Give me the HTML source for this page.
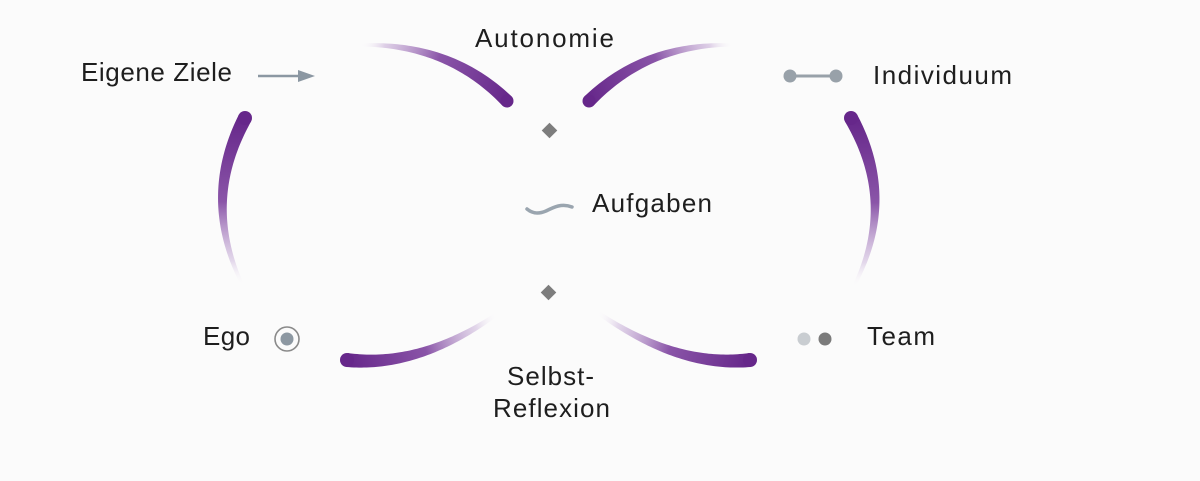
<!DOCTYPE html>
<html><head><meta charset="utf-8"><style>
html,body{margin:0;padding:0;background:#fbfbfb;}
svg{display:block;}
text{font-family:"Liberation Sans",sans-serif;font-size:26px;fill:#1e1e1e;}
</style></head><body>
<svg id="s" width="1200" height="481" viewBox="0 0 1200 481" xmlns="http://www.w3.org/2000/svg">
<defs>
<linearGradient id="gTL" gradientUnits="userSpaceOnUse" x1="507" y1="101" x2="360" y2="45">
<stop offset="0" stop-color="#66278a"/><stop offset="0.5" stop-color="#8a55a8"/><stop offset="0.85" stop-color="#c9b0d8" stop-opacity="0.6"/><stop offset="1" stop-color="#fff" stop-opacity="0"/></linearGradient>
<linearGradient id="gTR" gradientUnits="userSpaceOnUse" x1="589" y1="101" x2="734" y2="45">
<stop offset="0" stop-color="#66278a"/><stop offset="0.5" stop-color="#8a55a8"/><stop offset="0.85" stop-color="#c9b0d8" stop-opacity="0.6"/><stop offset="1" stop-color="#fff" stop-opacity="0"/></linearGradient>
<linearGradient id="gL" gradientUnits="userSpaceOnUse" x1="245" y1="118" x2="243" y2="286">
<stop offset="0" stop-color="#66278a"/><stop offset="0.5" stop-color="#8a55a8"/><stop offset="0.85" stop-color="#d2bfdf" stop-opacity="0.6"/><stop offset="1" stop-color="#fff" stop-opacity="0"/></linearGradient>
<linearGradient id="gR" gradientUnits="userSpaceOnUse" x1="851" y1="118" x2="853" y2="288">
<stop offset="0" stop-color="#66278a"/><stop offset="0.5" stop-color="#8a55a8"/><stop offset="0.85" stop-color="#d2bfdf" stop-opacity="0.6"/><stop offset="1" stop-color="#fff" stop-opacity="0"/></linearGradient>
<linearGradient id="gBL" gradientUnits="userSpaceOnUse" x1="347" y1="360" x2="497" y2="314">
<stop offset="0" stop-color="#66278a"/><stop offset="0.5" stop-color="#8a55a8"/><stop offset="0.85" stop-color="#d2bfdf" stop-opacity="0.6"/><stop offset="1" stop-color="#fff" stop-opacity="0"/></linearGradient>
<linearGradient id="gBR" gradientUnits="userSpaceOnUse" x1="750" y1="360" x2="597" y2="312">
<stop offset="0" stop-color="#66278a"/><stop offset="0.5" stop-color="#8a55a8"/><stop offset="0.85" stop-color="#d2bfdf" stop-opacity="0.6"/><stop offset="1" stop-color="#fff" stop-opacity="0"/></linearGradient>
</defs>
<rect width="1200" height="481" fill="#fbfbfb"/>

<!-- arcs (fallback strokes; replaced by tapered shapes via script) -->
<g id="arcs">
<path class="arc" data-p="507,101,449,43,360,45,13,3,gTL" d="M360,45 Q449,43 507,101" fill="none" stroke="url(#gTL)" stroke-width="12" stroke-linecap="round"/>
<path class="arc" data-p="589,101,647,43,734,45,13,3,gTR" d="M734,45 Q647,43 589,101" fill="none" stroke="url(#gTR)" stroke-width="12" stroke-linecap="round"/>
<path class="arc" data-p="245,118,201,201,243,286,14,3,gL" d="M245,118 Q201,201 243,286" fill="none" stroke="url(#gL)" stroke-width="11" stroke-linecap="round"/>
<path class="arc" data-p="851,118,898,202,853,288,14,3,gR" d="M851,118 Q898,202 853,288" fill="none" stroke="url(#gR)" stroke-width="11" stroke-linecap="round"/>
<path class="arc" data-p="347,360,420,368,497,314,14,4,gBL" d="M347,360 Q420,368 497,314" fill="none" stroke="url(#gBL)" stroke-width="13" stroke-linecap="round"/>
<path class="arc" data-p="750,360,677,368,597,312,14,4,gBR" d="M750,360 Q677,368 597,312" fill="none" stroke="url(#gBR)" stroke-width="13" stroke-linecap="round"/>
</g>

<!-- diamonds -->
<rect x="544" y="125" width="11" height="11" fill="#7d7d7d" transform="rotate(45 549.5 130.5)"/>
<rect x="543" y="287" width="11" height="11" fill="#7d7d7d" transform="rotate(45 548.5 292.5)"/>

<!-- wave -->
<path d="M527,209 C533,214 539,214 546,211 C554,207 562,203 572,207" fill="none" stroke="#9aa5af" stroke-width="3.5" stroke-linecap="round"/>

<!-- arrow -->
<line x1="258" y1="76" x2="300" y2="76" stroke="#8b97a2" stroke-width="2.5"/>
<polygon points="298,70 315,76 298,82" fill="#8b97a2"/>

<!-- individuum icon -->
<line x1="790" y1="76" x2="836" y2="76" stroke="#98a1a9" stroke-width="3"/>
<circle cx="790" cy="76" r="6.5" fill="#98a1a9"/>
<circle cx="836" cy="76" r="6.5" fill="#98a1a9"/>

<!-- ego radio -->
<circle cx="287" cy="339" r="12" fill="none" stroke="#8a8a8a" stroke-width="1.6"/>
<circle cx="287" cy="339" r="6.5" fill="#8d98a2"/>

<!-- team dots -->
<circle cx="804" cy="339" r="6.5" fill="#c9cdd1"/>
<circle cx="825" cy="339" r="6.5" fill="#7b7b7b"/>

<!-- labels -->
<text x="81" y="81" textLength="151" lengthAdjust="spacing">Eigene Ziele</text>
<text x="475" y="47" textLength="139" lengthAdjust="spacing">Autonomie</text>
<text x="873" y="84" textLength="139" lengthAdjust="spacing">Individuum</text>
<text x="592" y="212" textLength="120" lengthAdjust="spacing">Aufgaben</text>
<text x="203" y="345" textLength="47" lengthAdjust="spacing">Ego</text>
<text x="867" y="345" textLength="68" lengthAdjust="spacing">Team</text>
<text x="507" y="385" textLength="87" lengthAdjust="spacing">Selbst-</text>
<text x="493" y="417" textLength="117" lengthAdjust="spacing">Reflexion</text>
</svg>
<script>
(function(){
  var NS="http://www.w3.org/2000/svg";
  var paths=document.querySelectorAll("path.arc");
  for(var k=0;k<paths.length;k++){
    var el=paths[k];
    var a=el.getAttribute("data-p").split(",");
    var x0=+a[0],y0=+a[1],cx=+a[2],cy=+a[3],x2=+a[4],y2=+a[5],w0=+a[6],w1=+a[7],g=a[8];
    var N=60,L=[],R=[];
    for(var i=0;i<=N;i++){
      var t=i/N,mt=1-t;
      var px=mt*mt*x0+2*mt*t*cx+t*t*x2, py=mt*mt*y0+2*mt*t*cy+t*t*y2;
      var dx=2*mt*(cx-x0)+2*t*(x2-cx), dy=2*mt*(cy-y0)+2*t*(y2-cy);
      var len=Math.sqrt(dx*dx+dy*dy)||1;
      var nx=-dy/len, ny=dx/len;
      var w=(w0+(w1-w0)*Math.pow(t,1.1))/2;
      L.push([px+nx*w,py+ny*w]); R.push([px-nx*w,py-ny*w]);
    }
    var d="M"+L[0][0].toFixed(2)+","+L[0][1].toFixed(2);
    for(var i=1;i<=N;i++) d+=" L"+L[i][0].toFixed(2)+","+L[i][1].toFixed(2);
    for(var i=N;i>=0;i--) d+=" L"+R[i][0].toFixed(2)+","+R[i][1].toFixed(2);
    d+=" Z";
    var grp=document.createElementNS(NS,"g");
    var np=document.createElementNS(NS,"path");
    np.setAttribute("d",d);
    np.setAttribute("fill","url(#"+g+")");
    var c=document.createElementNS(NS,"circle");
    c.setAttribute("cx",x0);c.setAttribute("cy",y0);c.setAttribute("r",w0/2);
    c.setAttribute("fill","#66278a");
    grp.appendChild(np);grp.appendChild(c);
    el.parentNode.replaceChild(grp,el);
  }
})();
</script>
</body></html>
